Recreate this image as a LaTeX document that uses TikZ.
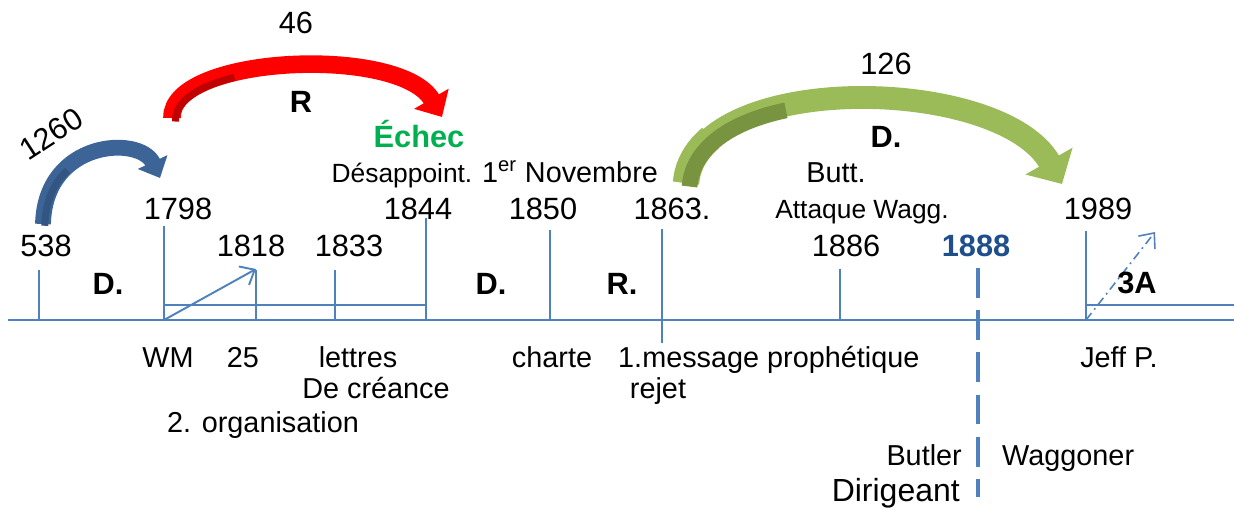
\documentclass[tikz,border=0pt]{standalone}
\usepackage{fontspec}
\setmainfont{Liberation Sans}
\usetikzlibrary{arrows.meta}
\definecolor{axisblue}{RGB}{79,129,189}
\definecolor{arcblue}{RGB}{60,100,150}
\definecolor{arcblueshade}{RGB}{50,85,130}
\definecolor{arcred}{RGB}{255,0,0}
\definecolor{arcredshade}{RGB}{192,0,0}
\definecolor{arcgreen}{RGB}{155,187,89}
\definecolor{arcgreenshade}{RGB}{120,148,64}
\definecolor{echecgreen}{RGB}{0,176,80}
\definecolor{datenavy}{RGB}{31,78,140}
\begin{document}
\begin{tikzpicture}[x=0.2mm,y=-0.2mm,
  yr/.style={font=\fontsize{17.5}{20}\selectfont,anchor=base},
  lbl/.style={font=\fontsize{16.4}{19}\selectfont,anchor=base},
  sml/.style={font=\fontsize{15}{18}\selectfont,anchor=base},
  era/.style={font=\bfseries\fontsize{17.5}{20}\selectfont,anchor=base},
  yrline/.style={draw=axisblue,line width=1.1pt},
  barb/.style={-{Straight Barb[length=7pt,width=12pt]}}]
\useasboundingbox (0,0) rectangle (1234,509);
\coordinate (ax0) at (8,320);
\coordinate (ax1) at (1234,320);
\draw[yrline,line width=1.3pt] (ax0) -- (ax1);
\foreach \x/\t in {39/270,164/226,256/270,335/270,426/218,550/230,840/269,1086/231}
  \draw[yrline] (\x,\t) -- (\x,320);
\draw[yrline] (662,229) -- (662,343);
\draw[yrline] (164,305) -- (426,305);
\draw[yrline] (1086,305) -- (1234,305);
\coordinate (o1798) at (164,320);
\coordinate (t1818) at (256,269);
\draw[yrline,barb] (o1798) -- (t1818);
\coordinate (o1989) at (1086,320);
\coordinate (t3A) at (1155,232);
\draw[yrline,line width=0.9pt,dash pattern=on 5pt off 2.5pt on 1pt off 2.5pt,barb] (o1989) -- (t3A);
\coordinate (d1888a) at (978,268);
\coordinate (d1888b) at (978,497);
\draw[axisblue,line width=2.3pt,dash pattern=on 17pt off 7pt] (d1888a) -- (d1888b);
\coordinate (b0) at (43,224);
\coordinate (b1) at (160,178);
\draw[arcblue,line width=9pt,line cap=butt,-{Triangle[width=18pt,length=10pt]}] (b0) .. controls (45,140) and (140,135) .. (b1);
\draw[arcblueshade,line width=4pt,dash pattern=on 35pt off 900pt,transform canvas={xshift=1pt,yshift=-1pt}] (b0) .. controls (45,140) and (140,135) .. (b1);
\coordinate (r0) at (172,118);
\coordinate (r1) at (442,117);
\draw[arcred,line width=10pt,line cap=butt,-{Triangle[width=22pt,length=12pt]}] (r0) .. controls (170,55) and (400,45) .. (r1);
\draw[arcredshade,line width=4pt,dash pattern=on 45pt off 900pt,transform canvas={xshift=2pt,yshift=-2pt}] (r0) .. controls (170,55) and (400,45) .. (r1);
\coordinate (g0) at (686,183);
\coordinate (g1) at (1062,184);
\draw[arcgreen,line width=15pt,line cap=butt,dash pattern=on 30pt off 900pt] (g0) .. controls (695,70) and (1000,75) .. (g1);
\draw[arcgreen,line width=13pt,line cap=butt,-{Triangle[width=30pt,length=15pt]}] (g0) .. controls (695,70) and (1000,75) .. (g1);
\draw[arcgreenshade,line width=9pt,dash pattern=on 75pt off 900pt,transform canvas={xshift=2pt,yshift=-2pt}] (g0) .. controls (695,70) and (1000,75) .. (g1);
\node[yr] (y538) at (46,257) {538};
\node[yr] (y1798) at (178,220) {1798};
\node[yr] (y1818) at (251,257) {1818};
\node[yr] (y1833) at (349,257) {1833};
\node[yr] (y1844) at (418,220) {1844};
\node[yr] (y1850) at (543,220) {1850};
\node[yr] (y1863) at (672,220) {1863.};
\node[yr] (y1886) at (846,257) {1886};
\node[era,text=datenavy] (y1888) at (976,257) {1888};
\node[yr] (y1989) at (1098,220) {1989};
\node[sml] (attaque) at (862,219) {Attaque Wagg.};
\node[lbl] (butt) at (836,183) {Butt.};
\node[sml] (desap) at (402,183) {Désappoint.};
\node[lbl] (nov) at (570,183) {1\textsuperscript{er} Novembre};
\node[era,text=echecgreen] (echec) at (419,148) {Échec};
\node[era] (eraR) at (301,113) {R};
\node[era] (eraD3) at (886,148) {D.};
\node[yr] (n126) at (886,75) {126};
\node[yr] (n46) at (296,34) {46};
\node[yr,anchor=center,rotate=33] (n1260) at (51,134) {1260};
\node[era] (eraD1) at (108,294) {D.};
\node[era] (eraD2) at (491,294) {D.};
\node[era] (eraR2) at (622,294) {R.};
\node[era] (era3A) at (1137,293) {3A};
\node[lbl] (wm) at (168,367) {WM};
\node[lbl] (n25) at (243,367) {25};
\node[lbl] (lettres) at (358,367) {lettres};
\node[lbl] (creance) at (376,398) {De créance};
\node[lbl] (orga) at (263,432) {2. organisation};
\node[lbl] (charte) at (552,367) {charte};
\node[lbl,anchor=base west] (message) at (612,367) {1.message prophétique};
\node[lbl] (rejet) at (658,398) {rejet};
\node[lbl] (jeff) at (1119,367) {Jeff P.};
\node[lbl,anchor=base east] (butler) at (968,465) {Butler};
\node[lbl,anchor=base west] (wagg) at (996,465) {Waggoner};
\node[lbl,font=\fontsize{18.2}{21}\selectfont,anchor=base east] (dirig) at (966,501) {Dirigeant};
\end{tikzpicture}
\end{document}
